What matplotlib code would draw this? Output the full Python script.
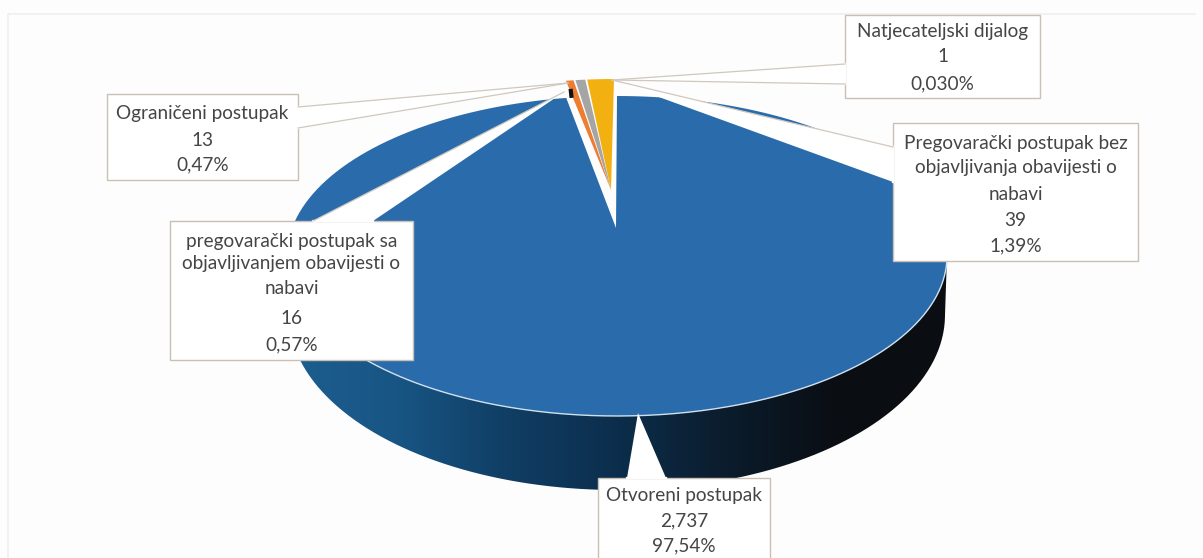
import numpy as np
import matplotlib
matplotlib.use("Agg")
import matplotlib.pyplot as plt
from matplotlib.patches import Rectangle, PathPatch
from matplotlib.path import Path
from matplotlib.colors import LinearSegmentedColormap

plt.rcParams["font.family"] = ["Lato", "DejaVu Sans"]

# pie data, clockwise from 12 o'clock
procedures = ["Otvoreni postupak", "Natjecateljski dijalog", "Ograničeni postupak",
              "pregovarački postupak sa objavljivanjem obavijesti o nabavi",
              "Pregovarački postupak bez objavljivanja obavijesti o nabavi"]
counts = [2737, 1, 13, 16, 39]
count_labels = ["2,737", "1", "13", "16", "39"]
percent_labels = ["97,54%", "0,030%", "0,47%", "0,57%", "1,39%"]
slice_colors = ["#2a6bab", "#111111", "#ed7d31", "#a5a5a5", "#f2b111"]


def rim(theta, cx=617, cy=256, rx=330, ry=160):
    return cx + rx * np.sin(theta), cy - ry * np.cos(theta)


def wedge(a0, a1, apex, dy=0, dx=0):
    t = np.linspace(a0, a1, 200)
    x, y = rim(t)
    return np.r_[apex[0], x + dx], np.r_[apex[1], y + dy]


bg = "#fefdfd"
fig = plt.figure(figsize=(12.03, 5.58), dpi=100, facecolor=bg)
ax = fig.add_axes([0, 0, 1, 1])
ax.set_xlim(0, 1203)
ax.set_ylim(558, 0)
ax.axis("off")

# faint page frame
ax.plot([8, 8, 1195], [558, 14, 14], color="#f0eeee", lw=1.2, zorder=1)

angles = np.r_[0, np.cumsum(counts)] / sum(counts) * 2 * np.pi

# side wall, gradient runs left to right
t = np.linspace(np.pi / 2, 3 * np.pi / 2, 300)
top_x, top_y = rim(t)
bot_x, bot_y = rim(t, cx=617, cy=315, rx=328, ry=175)
wall = np.c_[np.r_[top_x, bot_x[::-1]], np.r_[top_y, bot_y[::-1]]]
cmap = LinearSegmentedColormap.from_list(
    "wall", ["#1d5e90", "#185584", "#103e64", "#0c2e4c", "#0b1c2c", "#0a0e14", "#0b0e12"])
img = ax.imshow(np.linspace(0, 1, 256)[None, :], cmap=cmap, aspect="auto",
                extent=[287, 947, 558, 0], zorder=2)
ax.set_xlim(0, 1203)
ax.set_ylim(558, 0)
img.set_clip_path(PathPatch(Path(wall), transform=ax.transData))

# big slice, pale rim only along the front
x, y = wedge(angles[0], angles[1], (616, 228))
ax.fill(x, y, color=slice_colors[0], zorder=3, lw=0)
rim_x, rim_y = rim(np.linspace(np.pi / 2, 3 * np.pi / 2, 300))
ax.plot(rim_x, rim_y, color="#cfe0ee", lw=1.0, zorder=3)

# the small slices pulled out upwards; the 1-count one only shows as a dark speck
for i in range(2, 5):
    x, y = wedge(angles[i] + 0.003, angles[i + 1] - 0.003, (611, 190), dy=-17, dx=-2)
    ax.fill(x, y, color=slice_colors[i], lw=0, zorder=4)
speck_x, speck_y = rim(angles[1:3].mean())
ax.plot([speck_x + 4, speck_x + 5], [speck_y - 9, speck_y], color=slice_colors[1],
        lw=3, solid_capstyle="butt", zorder=4)

# callout boxes: (x0, y0, x1, y1), pointers as (tip, mouth, mouth)
boxes = [(598, 478, 770, 570), (845, 15, 1040, 98), (107, 94, 298, 180),
         (170, 221, 413, 360), (893, 123, 1138, 261)]
pointers = [[(638, 413), (627, 478), (666, 478)],
            [(612, 80), (845, 64), (845, 84)],
            [(568, 83), (298, 107), (298, 128)],
            [(564, 92), (313, 221), (373, 221)],
            [(612, 80), (893, 147), (893, 182)]]
# which pointer sides carry a grey outline
outlined = [[], [1, 2], [1, 2], [1], [1]]
text_lines = [["Otvoreni postupak", count_labels[0], percent_labels[0]],
              ["Natjecateljski dijalog", count_labels[1], percent_labels[1]],
              ["Ograničeni postupak", count_labels[2], percent_labels[2]],
              ["pregovarački postupak sa", "objavljivanjem obavijesti o", "nabavi", count_labels[3], percent_labels[3]],
              ["Pregovarački postupak bez", "objavljivanja obavijesti o", "nabavi", count_labels[4], percent_labels[4]]]
text_y = [[495, 521, 546], [31, 57, 84], [114, 140, 165],
          [241, 264, 288, 318, 345], [143, 168, 194, 220, 246]]

for box, ptr, sides, lines, ys in zip(boxes, pointers, outlined, text_lines, text_y):
    ax.add_patch(Rectangle((box[0], box[1]), box[2] - box[0], box[3] - box[1],
                           fc="white", ec="#c9c0b4", lw=1.0, zorder=5))
    xs = [p[0] for p in ptr]
    yy = [p[1] for p in ptr]
    ax.fill(xs, yy, color="white", lw=0, zorder=6)
    ax.plot(xs[1:], yy[1:], color="white", lw=1.6, zorder=6)
    for s in sides:
        ax.plot([xs[0], xs[s]], [yy[0], yy[s]], color="#cfc8be", lw=0.9, zorder=6)
    for line, ty in zip(lines, ys):
        ax.text((box[0] + box[2]) / 2, ty, line, ha="center", va="center",
                fontsize=13.7, color="#454545", zorder=7)

fig.savefig("out.png", dpi=100, facecolor=bg)
